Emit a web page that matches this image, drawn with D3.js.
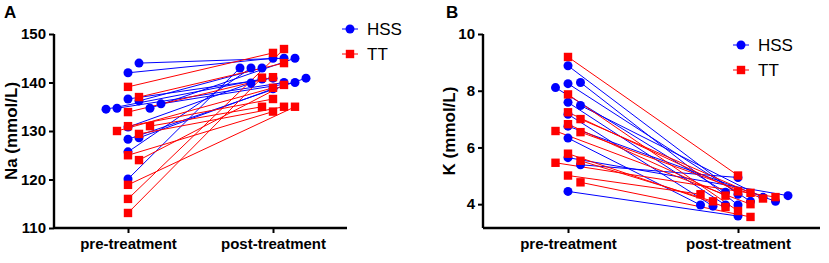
<!DOCTYPE html>
<html>
<head>
<meta charset="utf-8">
<script src="https://cdn.jsdelivr.net/npm/d3@7"></script>
<style>
  body { margin: 0; background: #fff; }
  svg { font-family: "Liberation Sans", Arial, sans-serif; }
</style>
</head>
<body>
<div id="chart"></div>
<script>
// data
var groups = ['pre-treatment', 'post-treatment'];
var series = ['HSS', 'TT'];

// panel A: Na (mmol/L), paired by index
var naHssPre  = [142.0, 144.0, 136.6, 136.2, 134.7, 134.7, 134.5, 135.6, 130.8, 128.3, 128.6, 125.7, 120.1];
var naHssPost = [145.0, 145.0, 140.9, 143.0, 140.0, 145.0, 140.7, 140.0, 139.9, 140.9, 138.7, 143.0, 143.0];
var naTtPre   = [139.1, 137.0, 133.9, 131.0, 129.4, 130.0, 131.0, 125.0, 124.0, 118.9, 116.0, 113.1];
var naTtPost  = [146.1, 144.0, 141.1, 136.6, 135.0, 138.9, 135.0, 134.0, 139.5, 135.0, 146.9, 141.0];
var naTicks = [110, 120, 130, 140, 150];

// panel B: K (mmol/L), paired by index
var kHssPre  = [8.88, 8.25, 8.29, 8.11, 7.59, 7.48, 7.17, 6.75, 6.33, 5.64, 5.39, 4.45];
var kHssPost = [4.35, 4.10, 3.97, 4.42, 3.97, 4.24, 3.93, 4.10, 3.97, 4.30, 4.94, 3.58];
var kTtPre   = [9.19, 7.87, 7.24, 7.00, 6.82, 6.54, 6.58, 5.78, 5.53, 5.46, 5.01, 4.77];
var kTtPost  = [5.01, 3.76, 4.45, 4.40, 4.30, 4.20, 4.00, 3.90, 4.10, 4.25, 4.35, 3.55];
var kTicks = [4, 6, 8, 10];

var W = 829, H = 263;
var blue = '#0000ff', red = '#ff0000';

var svg = d3.select('#chart').append('svg')
  .attr('width', W)
  .attr('height', H);

// simple beeswarm so overlapping points get pushed sideways
function swarm(vals, y, cx, step, minDist) {
  var placed = [];
  var order = [0, 1, -1, 2, -2, 3, -3, 4, -4, 5, -5];
  return vals.map(function(v) {
    var py = y(v);
    for (var i = 0; i < order.length; i++) {
      var px = cx + order[i] * step;
      var ok = placed.every(function(p) {
        return Math.hypot(p[0] - px, p[1] - py) >= minDist;
      });
      if (ok) { placed.push([px, py]); return px; }
    }
    placed.push([cx, py]);
    return cx;
  });
}

function drawPanel(p) {
  var g = svg.append('g');

  var x = d3.scalePoint()
    .domain(groups)
    .range([p.x0 + p.pad, p.x0 + p.pad + p.gap]);

  var y = d3.scaleLinear()
    .domain(p.domain)
    .range([228, 34]);

  var sets = [
    { name: 'HSS', pre: p.hssPre, post: p.hssPost, color: blue },
    { name: 'TT', pre: p.ttPre, post: p.ttPost, color: red }
  ];

  sets.forEach(function(s) {
    s.preX = swarm(s.pre, y, x(groups[0]), p.step, p.minDist);
    s.postX = swarm(s.post, y, x(groups[1]), p.step, p.minDist);
  });

  // connecting lines
  sets.forEach(function(s) {
    g.append('g').selectAll('line')
      .data(s.pre)
      .enter().append('line')
      .attr('x1', function(d, i) { return s.preX[i]; })
      .attr('y1', function(d) { return y(d); })
      .attr('x2', function(d, i) { return s.postX[i]; })
      .attr('y2', function(d, i) { return y(s.post[i]); })
      .attr('stroke', s.color)
      .attr('stroke-width', 1);
  });

  // points
  sets.forEach(function(s) {
    var pts = s.pre.map(function(v, i) { return [s.preX[i], v]; })
      .concat(s.post.map(function(v, i) { return [s.postX[i], v]; }));
    var sel = g.append('g').selectAll('.pt').data(pts).enter();
    if (s.name === 'HSS') {
      sel.append('circle')
        .attr('cx', function(d) { return d[0]; })
        .attr('cy', function(d) { return y(d[1]); })
        .attr('r', 4.5)
        .attr('fill', s.color);
    } else {
      sel.append('rect')
        .attr('x', function(d) { return d[0] - 4.2; })
        .attr('y', function(d) { return y(d[1]) - 4.2; })
        .attr('width', 8.4)
        .attr('height', 8.4)
        .attr('fill', s.color);
    }
  });

  // axes
  var yAxis = d3.axisLeft(y).tickValues(p.ticks).tickSize(5).tickPadding(3).tickFormat(d3.format('d'));
  var ya = g.append('g')
    .attr('transform', 'translate(' + p.x0 + ',0)')
    .call(yAxis);

  var xa = g.append('g')
    .attr('transform', 'translate(0,228)')
    .call(d3.axisBottom(x).tickSize(5).tickPadding(5));
  xa.select('.domain').attr('d', 'M' + p.x0 + ',0H' + p.xEnd);

  [ya, xa].forEach(function(a) {
    a.select('.domain').attr('stroke', '#000').attr('stroke-width', 2.4);
    a.selectAll('.tick line').attr('stroke', '#000').attr('stroke-width', 2);
    a.selectAll('.tick text')
      .attr('fill', '#000')
      .style('font-size', '15px')
      .style('font-weight', 'bold');
  });
  ya.select('.domain').attr('d', 'M0,' + y(p.domain[0]) + 'V' + y(p.ticks[p.ticks.length - 1]));

  // axis title
  g.append('text')
    .attr('transform', 'translate(' + p.titleX + ',' + 131 + ') rotate(-90)')
    .attr('text-anchor', 'middle')
    .style('font-size', '17px')
    .style('font-weight', 'bold')
    .text(p.title);

  // panel letter
  g.append('text')
    .attr('x', p.letterX)
    .attr('y', 18)
    .style('font-size', '17px')
    .style('font-weight', 'bold')
    .text(p.letter);

  // legend
  var leg = g.append('g').selectAll('g')
    .data(sets)
    .enter().append('g')
    .attr('transform', function(d, i) { return 'translate(' + p.legX + ',' + (p.legY + i * 25) + ')'; });
  leg.append('line')
    .attr('x1', -8).attr('x2', 8)
    .attr('stroke', function(d) { return d.color; })
    .attr('stroke-width', 1);
  leg.each(function(d) {
    var s = d3.select(this);
    if (d.name === 'HSS') {
      s.append('circle').attr('r', 4.5).attr('fill', d.color);
    } else {
      s.append('rect').attr('x', -4.2).attr('y', -4.2).attr('width', 8.4).attr('height', 8.4).attr('fill', d.color);
    }
  });
  leg.append('text')
    .attr('x', 17)
    .attr('dy', '0.36em')
    .style('font-size', '17px')
    .text(function(d) { return d.name; });
}

drawPanel({
  letter: 'A', letterX: 4,
  title: 'Na (mmol/L)', titleX: 17,
  x0: 54, pad: 74, gap: 145, xEnd: 347,
  domain: [110, 150], ticks: naTicks,
  hssPre: naHssPre, hssPost: naHssPost, ttPre: naTtPre, ttPost: naTtPost,
  step: 11, minDist: 10.5,
  legX: 350, legY: 29
});

drawPanel({
  letter: 'B', letterX: 446,
  title: 'K (mmol/L)', titleX: 455,
  x0: 483, pad: 85, gap: 170, xEnd: 820,
  domain: [3.16, 10], ticks: kTicks,
  hssPre: kHssPre, hssPost: kHssPost, ttPre: kTtPre, ttPost: kTtPost,
  step: 12.5, minDist: 10.5,
  legX: 741, legY: 45
});
</script>
</body>
</html>
